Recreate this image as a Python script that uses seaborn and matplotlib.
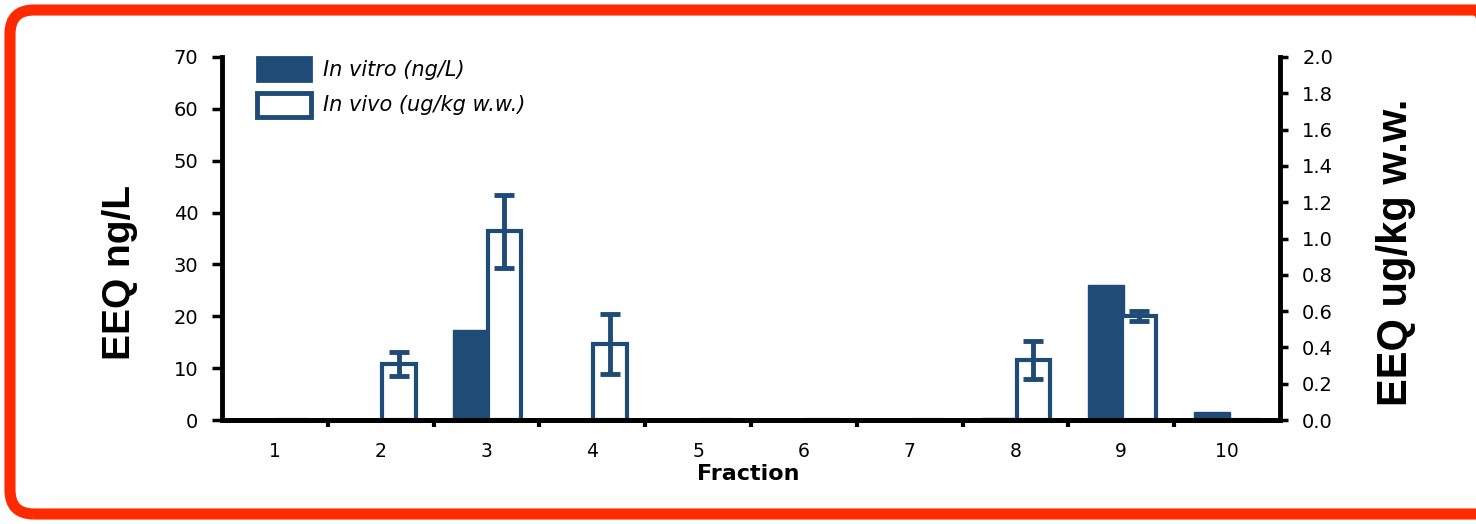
import numpy as np
import pandas as pd
import matplotlib.pyplot as plt
import seaborn as sns
from matplotlib.patches import Patch, FancyBboxPatch

# data
fractions = np.arange(1, 11)
fraction_labels = [str(f) for f in fractions]
in_vitro = [0, 0, 17.3, 0, 0, 0, 0, 0.4, 26.0, 1.5]          # ng/L (left axis)
in_vivo = [0, 0.31, 1.04, 0.42, 0, 0, 0, 0.33, 0.573, 0]      # ug/kg w.w. (right axis)
in_vivo_err = [0, 0.065, 0.2, 0.165, 0, 0, 0, 0.105, 0.025, 0]
left_ticks = [0, 10, 20, 30, 40, 50, 60, 70]
right_ticks = [0.0, 0.2, 0.4, 0.6, 0.8, 1.0, 1.2, 1.4, 1.6, 1.8, 2.0]

BLUE = "#1F4B77"
RED = "#FF2A00"

sns.set_style("white")
plt.rcParams['font.family'] = ['DejaVu Sans']
plt.rcParams['text.color'] = 'black'
plt.rcParams['xtick.color'] = 'black'
plt.rcParams['ytick.color'] = 'black'
plt.rcParams['axes.labelcolor'] = 'black'

fig = plt.figure(figsize=(14.76, 5.24), dpi=100)
W, H = 1476, 524
ax = fig.add_axes([222 / W, 1 - 420 / H, (1280 - 222) / W, (420 - 57) / H])
ax2 = ax.twinx()

df_vitro = pd.DataFrame({'pos': fractions - 0.145, 'val': in_vitro})
df_vivo = pd.DataFrame({'pos': fractions + 0.17, 'val': in_vivo, 'err': in_vivo_err})

# in vitro bars (left axis)
sns.barplot(data=df_vitro, x='pos', y='val', native_scale=True, width=0.34,
            color=BLUE, saturation=1, edgecolor=BLUE, linewidth=1,
            errorbar=None, ax=ax)

# in vivo bars (right axis)
sns.barplot(data=df_vivo, x='pos', y='val', native_scale=True, width=0.32,
            color='white', saturation=1, edgecolor=BLUE, linewidth=3,
            errorbar=None, ax=ax2)
nz = df_vivo[df_vivo['err'] > 0]
ax2.errorbar(nz['pos'], nz['val'], yerr=nz['err'], fmt='none', ecolor=BLUE,
             elinewidth=3.5, capsize=7, capthick=3.5, zorder=5)

ax.set_xlim(0.5, 10.5)
ax.set_ylim(0, 70)
ax2.set_ylim(0, 2.0)

ax.set_xticks(fractions)
ax.set_xticklabels(fraction_labels, fontsize=13.5)
ax.set_xticks(np.arange(1.5, 10.5, 1), minor=True)
ax.tick_params(axis='x', which='major', length=0, pad=16)
ax.tick_params(axis='x', which='minor', length=5, width=3, direction='out', bottom=True)
ax.set_xlabel('')
ax.set_ylabel('')
ax2.set_ylabel('')

ax.set_yticks(left_ticks)
ax.set_yticklabels([str(t) for t in left_ticks], fontsize=14)
ax.tick_params(axis='y', length=7, width=2.5, direction='out', left=True, pad=10)

ax2.set_yticks(right_ticks)
ax2.set_yticklabels([f"{t:.1f}" for t in right_ticks], fontsize=14)
ax2.tick_params(axis='y', length=6, width=2.5, direction='out', right=True, pad=10)

for a in (ax, ax2):
    a.spines['top'].set_visible(False)
    for s in ('left', 'right', 'bottom'):
        a.spines[s].set_linewidth(3.5)
        a.spines[s].set_color('black')
ax.spines['right'].set_visible(False)
ax2.spines['left'].set_visible(False)

handles = [Patch(facecolor=BLUE, edgecolor=BLUE, linewidth=2),
           Patch(facecolor='white', edgecolor=BLUE, linewidth=3.5)]
ax2.legend(handles, ['In vitro (ng/L)', 'In vivo (ug/kg w.w.)'],
           loc='upper left', bbox_to_anchor=((257 - 222) / 1058, 1.0),
           frameon=False, borderpad=0, borderaxespad=0,
           handlelength=2.6, handleheight=1.4, handletextpad=0.55,
           labelspacing=0.55, prop={'style': 'italic', 'size': 15})

fig.text(748 / W, 1 - 474 / H, 'Fraction', ha='center', va='center',
         fontsize=16, fontweight='bold')
fig.text(120 / W, 1 - 272 / H, 'EEQ ng/L', ha='center', va='center',
         rotation=90, fontsize=28, fontweight='bold', family='Liberation Sans')
fig.text(1396 / W, 1 - 252 / H, 'EEQ ug/kg w.w.', ha='center', va='center',
         rotation=90, fontsize=30, fontweight='bold', family='Liberation Sans')

# red rounded frame around the panel
frame = FancyBboxPatch((10 / 100, 10 / 100), (1500 - 10) / 100, (514 - 10) / 100,
                       boxstyle="round,pad=0,rounding_size=0.24",
                       transform=fig.dpi_scale_trans, facecolor='none',
                       edgecolor=RED, linewidth=8, clip_on=False)
fig.patches.append(frame)

fig.savefig('out.png', dpi=100)
